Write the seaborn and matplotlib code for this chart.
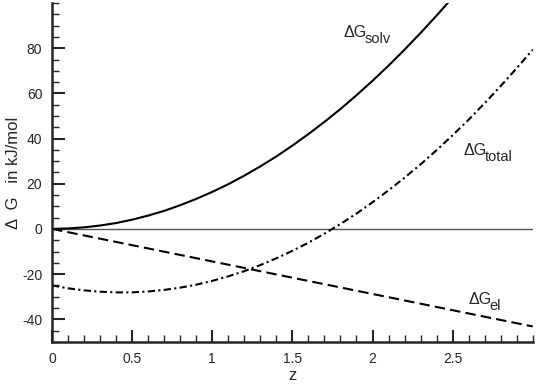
import numpy as np
import pandas as pd
import seaborn as sns
import matplotlib.pyplot as plt
from matplotlib.ticker import MultipleLocator

# values
z_solv = [0.0, 0.1, 0.2, 0.3, 0.4, 0.5, 0.6, 0.7, 0.8, 0.9, 1.0, 1.1, 1.2,
          1.3, 1.4, 1.5, 1.6, 1.7, 1.8, 1.9, 2.0, 2.1, 2.2, 2.3, 2.4, 2.5]
g_solv = [0.0, 0.2, 0.7, 1.5, 2.6, 4.1, 5.9, 8.0, 10.5, 13.3, 16.4, 19.8, 23.6,
          27.7, 32.1, 36.9, 42.0, 47.4, 53.1, 59.2, 65.6, 72.3, 79.4, 86.8, 94.5, 102.5]

z_el = [0.0, 0.5, 1.0, 1.5, 2.0, 2.5, 3.0]
g_el = [0.0, -7.2, -14.4, -21.6, -28.8, -36.0, -43.2]

z_total = [0.0, 0.1, 0.2, 0.3, 0.4, 0.5, 0.6, 0.7, 0.8, 0.9, 1.0, 1.1, 1.2, 1.3, 1.4, 1.5,
           1.6, 1.7, 1.8, 1.9, 2.0, 2.1, 2.2, 2.3, 2.4, 2.5, 2.6, 2.7, 2.8, 2.9, 3.0]
g_total = [-25.0, -26.3, -27.2, -27.8, -28.1, -28.1, -27.7, -27.0, -26.0, -24.7, -23.0,
           -21.0, -18.7, -16.0, -13.0, -9.7, -6.1, -2.1, 2.2, 6.8, 11.8, 17.1, 22.7,
           28.6, 34.9, 41.5, 48.4, 55.7, 63.3, 71.2, 79.4]

# curve labels: subscript text and anchor (z, value)
label_subs = ['solv', 'total', 'el']
label_z = [1.82, 2.567, 2.596]
label_g = [84.8, 32.6, -33.3]

sns.set_style("ticks")
plt.rcParams['font.family'] = ['Liberation Sans', 'DejaVu Sans']
plt.rcParams['axes.unicode_minus'] = False

fig = plt.figure(figsize=(5.36, 3.88), dpi=100)
ax = fig.add_axes([0.097, 0.119, 0.897, 0.873])

ax.axhline(0, color='#555555', lw=1.0, zorder=1)

solv = pd.DataFrame({'z': z_solv, 'g': g_solv})
el = pd.DataFrame({'z': z_el, 'g': g_el})
total = pd.DataFrame({'z': z_total, 'g': g_total})

sns.lineplot(data=solv, x='z', y='g', ax=ax, color='black', lw=1.5)
sns.lineplot(data=el, x='z', y='g', ax=ax, color='black', lw=1.5,
             linestyle=(0, (5, 2.5)))
sns.lineplot(data=total, x='z', y='g', ax=ax, color='black', lw=1.5,
             linestyle=(0, (3.5, 1.6, 1, 1.6)))

ax.set_xlim(0, 3)
ax.set_ylim(-50, 100)
ax.set_xticks([0, 0.5, 1, 1.5, 2, 2.5])
ax.set_xticklabels(['0', '0.5', '1', '1.5', '2', '2.5'])
ax.set_yticks([-40, -20, 0, 20, 40, 60, 80])
ax.xaxis.set_minor_locator(MultipleLocator(0.1))
ax.yaxis.set_minor_locator(MultipleLocator(5))
ax.tick_params(which='major', direction='in', length=9, width=1.5, labelsize=10, pad=7)
ax.tick_params(which='minor', direction='in', length=5, width=1.0)

sns.despine(ax=ax)
for s in ['left', 'bottom']:
    ax.spines[s].set_linewidth(1.8)

ax.set_xlabel('z', fontsize=12, labelpad=2)
ax.set_ylabel('Δ  G   in kJ/mol', fontsize=12, labelpad=1)

for sub, x, y in zip(label_subs, label_z, label_g):
    ax.text(x, y, 'ΔG', fontsize=11.5, va='baseline', ha='left')
    ax.annotate(sub, (x, y), xytext=(15.2, -4.3), textcoords='offset points',
                fontsize=10.5, va='baseline', ha='left')

plt.savefig('out.png', dpi=100)
